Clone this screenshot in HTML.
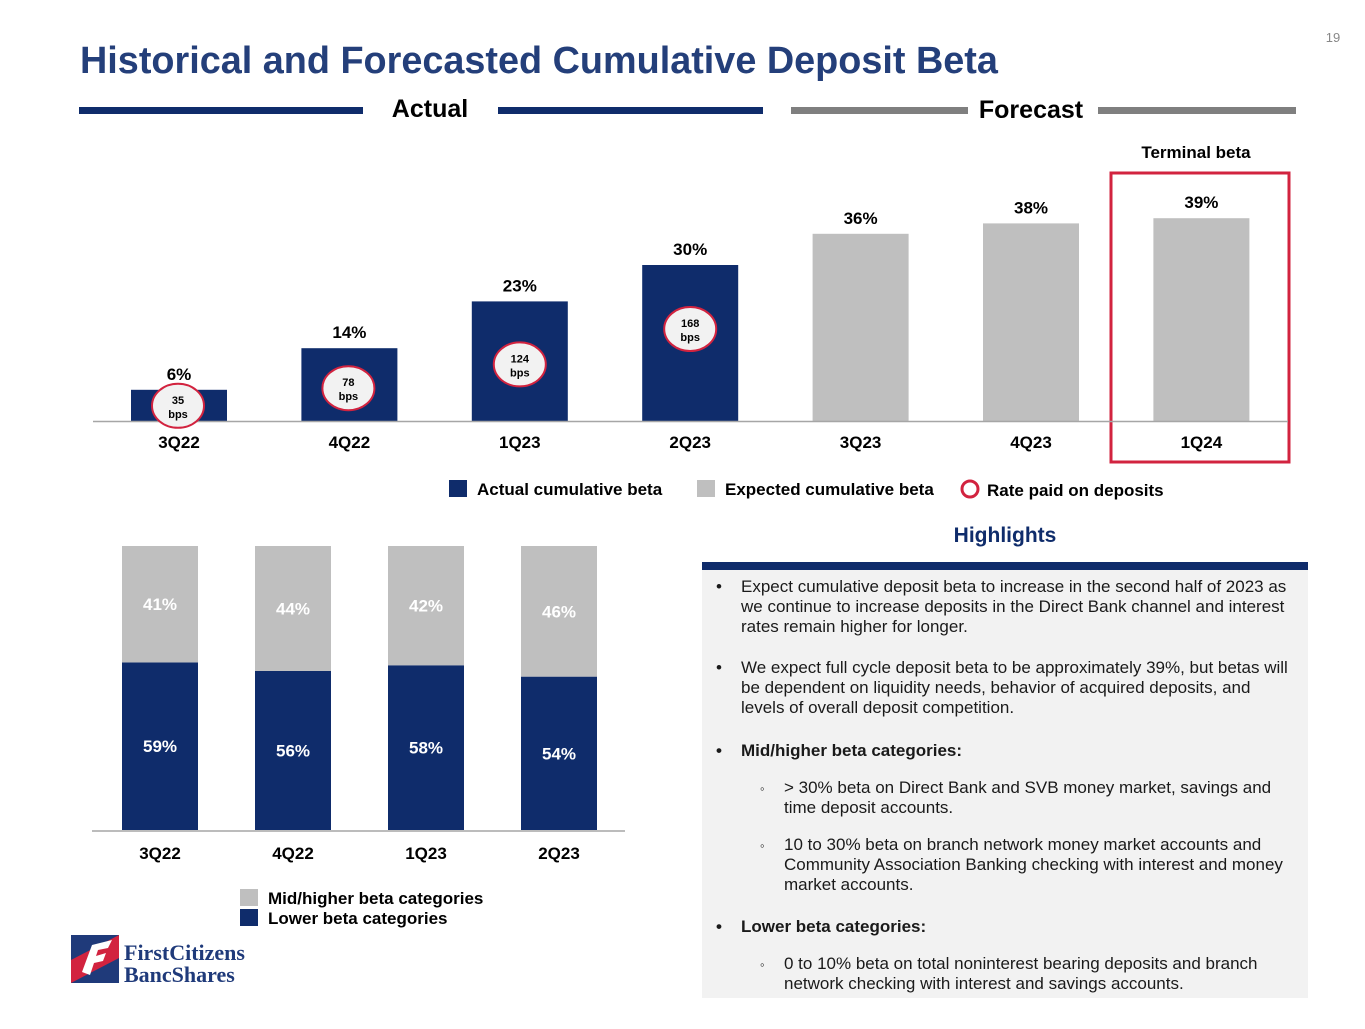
<!DOCTYPE html>
<html><head><meta charset="utf-8">
<style>
html,body{margin:0;padding:0;background:#fff;}
body{width:1365px;height:1024px;overflow:hidden;font-family:"Liberation Sans",Arial,sans-serif;}
svg text{font-family:"Liberation Sans",Arial,sans-serif;}
</style></head>
<body>
<svg id="s" width="1365" height="1024" viewBox="0 0 1365 1024" xmlns="http://www.w3.org/2000/svg">
<text x="1333" y="42" font-size="13" fill="#888" text-anchor="middle" font-family="Liberation Mono">19</text>
<text x="80" y="73" font-size="37.8" font-weight="bold" fill="#243f7a">Historical and Forecasted Cumulative Deposit Beta</text>
<rect x="79" y="107" width="284" height="7" fill="#0f2c6b"/>
<rect x="498" y="107" width="265" height="7" fill="#0f2c6b"/>
<text x="430" y="117" font-size="25" font-weight="bold" fill="#000" text-anchor="middle">Actual</text>
<rect x="791" y="107" width="177" height="7" fill="#7f7f7f"/>
<rect x="1098" y="107" width="198" height="7" fill="#7f7f7f"/>
<text x="1031" y="118" font-size="25" font-weight="bold" fill="#000" text-anchor="middle">Forecast</text>
<text x="1196" y="158" font-size="17" font-weight="bold" fill="#000" text-anchor="middle">Terminal beta</text>
<rect x="1111" y="173" width="178" height="289" fill="none" stroke="#d2233f" stroke-width="3"/>
<g id="topChart"></g>
<line x1="93" y1="421.5" x2="1288" y2="421.5" stroke="#a6a6a6" stroke-width="1.5"/>
<g id="rateMarks"></g>
<rect x="449" y="480" width="18" height="17" fill="#0f2c6b"/>
<text x="477" y="495" font-size="17" font-weight="bold">Actual cumulative beta</text>
<rect x="697" y="480" width="18" height="17" fill="#bfbfbf"/>
<text x="725" y="495" font-size="17" font-weight="bold">Expected cumulative beta</text>
<circle cx="970" cy="489" r="8" fill="none" stroke="#d2233f" stroke-width="3"/>
<text x="987" y="496" font-size="17" font-weight="bold">Rate paid on deposits</text>
<g id="botChart"></g>
<line x1="92" y1="831" x2="625" y2="831" stroke="#a6a6a6" stroke-width="1.5"/>
<rect x="240" y="889" width="18" height="17" fill="#bfbfbf"/>
<text x="268" y="904" font-size="17" font-weight="bold">Mid/higher beta categories</text>
<rect x="240" y="909" width="18" height="17" fill="#0f2c6b"/>
<text x="268" y="924" font-size="17" font-weight="bold">Lower beta categories</text>
<g>
<rect x="71" y="935" width="48" height="48" fill="#1f3a7a"/>
<path d="M71 983 L71 960 L119 935 L119 958 Z" fill="#d2233f"/>
<path d="M82 972 L92 945 L112 940 L108 948 L98 950 L96 956 L106 953 L103 961 L94 963 L90 975 Z" fill="#fff"/>
<text x="124" y="960" font-size="22" font-weight="bold" font-family="Liberation Serif" fill="#1f3a7a" style="font-family:'Liberation Serif',serif">FirstCitizens</text>
<text x="124" y="982" font-size="22" font-weight="bold" font-family="Liberation Serif" fill="#1f3a7a" style="font-family:'Liberation Serif',serif">BancShares</text>
</g>
<text x="1005" y="542" font-size="21" font-weight="bold" fill="#0f2c6b" text-anchor="middle">Highlights</text>
<rect x="702" y="570" width="606" height="428" fill="#f2f2f2"/>
<rect x="702" y="562" width="606" height="8" fill="#0f2c6b"/>
<g font-size="17" fill="#1a1a1a">
<text x="716" y="592">•</text>
<text x="741" y="592">Expect cumulative deposit beta to increase in the second half of 2023 as</text>
<text x="741" y="612">we continue to increase deposits in the Direct Bank channel and interest</text>
<text x="741" y="632">rates remain higher for longer.</text>
<text x="716" y="673">•</text>
<text x="741" y="673">We expect full cycle deposit beta to be approximately 39%, but betas will</text>
<text x="741" y="693">be dependent on liquidity needs, behavior of acquired deposits, and</text>
<text x="741" y="713">levels of overall deposit competition.</text>
<text x="716" y="756" font-weight="bold">•</text>
<text x="741" y="756" font-weight="bold">Mid/higher beta categories:</text>
<text x="760" y="793" font-size="13">◦</text>
<text x="784" y="793">&gt; 30% beta on Direct Bank and SVB money market, savings and</text>
<text x="784" y="813">time deposit accounts.</text>
<text x="760" y="850" font-size="13">◦</text>
<text x="784" y="850">10 to 30% beta on branch network money market accounts and</text>
<text x="784" y="870">Community Association Banking checking with interest and money</text>
<text x="784" y="890">market accounts.</text>
<text x="716" y="932" font-weight="bold">•</text>
<text x="741" y="932" font-weight="bold">Lower beta categories:</text>
<text x="760" y="969" font-size="13">◦</text>
<text x="784" y="969">0 to 10% beta on total noninterest bearing deposits and branch</text>
<text x="784" y="989">network checking with interest and savings accounts.</text>
</g>
</svg>
<script>
const topCats=["3Q22","4Q22","1Q23","2Q23","3Q23","4Q23","1Q24"];
const topValues=[6,14,23,30,36,38,39];
const topActual=[true,true,true,true,false,false,false];
const bpsValues=[35,78,124,168];
const botCats=["3Q22","4Q22","1Q23","2Q23"];
const lowerValues=[59,56,58,54];
const midValues=[41,44,42,46];

(function(){
const NS="http://www.w3.org/2000/svg";
function mk(p,t,a){const e=document.createElementNS(NS,t);for(const k in a)e.setAttribute(k,a[k]);p.appendChild(e);return e;}
const g1=document.getElementById('topChart');
const g2=document.getElementById('rateMarks');
const tX=i=>179+i*170.4, tBase=421, tY=v=>tBase-v*5.2;
const circOff=[16,40,63,64];
topCats.forEach((c,i)=>{
  const v=topValues[i];
  const r=mk(g1,'rect',{x:tX(i)-48,y:tY(v),width:96,height:tBase-tY(v),fill:topActual[i]?'#0f2c6b':'#bfbfbf'});
  
  
  const t=mk(g1,'text',{x:tX(i),y:tY(v)-10,'font-size':17,'font-weight':'bold','text-anchor':'middle'});t.textContent=v+'%';
  
  
  const l=mk(g1,'text',{x:tX(i),y:448,'font-size':17,'font-weight':'bold','text-anchor':'middle'});l.textContent=c;
  
  
});
bpsValues.forEach((b,i)=>{
  const cx=tX(i)-(i<2?1:0), cy=tY(topValues[i])+circOff[i];
  const e=mk(g2,'ellipse',{cx:cx,cy:cy,rx:26,ry:22,fill:'#f2f2f2',stroke:'#d2233f','stroke-width':2});
  
  
  const t1=mk(g2,'text',{x:cx,y:cy-2,'font-size':11,'font-weight':'bold','text-anchor':'middle'});t1.textContent=b;
  
  
  const t2=mk(g2,'text',{x:cx,y:cy+12,'font-size':11,'font-weight':'bold','text-anchor':'middle'});t2.textContent='bps';
  
  
});
const g3=document.getElementById('botChart');
const bX=i=>160+i*133, bBase=830, bS=2.84;
botCats.forEach((c,i)=>{
  const lh=lowerValues[i]*bS, mh=midValues[i]*bS;
  const r1=mk(g3,'rect',{x:bX(i)-38,y:bBase-lh,width:76,height:lh,fill:'#0f2c6b'});
  
  
  const r2=mk(g3,'rect',{x:bX(i)-38,y:bBase-lh-mh,width:76,height:mh,fill:'#bfbfbf'});
  
  
  const t1=mk(g3,'text',{x:bX(i),y:bBase-lh/2+6,'font-size':17,'font-weight':'bold',fill:'#fff','text-anchor':'middle'});t1.textContent=lowerValues[i]+'%';
  
  
  const t2=mk(g3,'text',{x:bX(i),y:bBase-lh-mh/2+6,'font-size':17,'font-weight':'bold',fill:'#fff','text-anchor':'middle'});t2.textContent=midValues[i]+'%';
  
  
  const l=mk(g3,'text',{x:bX(i),y:859,'font-size':17,'font-weight':'bold','text-anchor':'middle'});l.textContent=c;
  
  
});
})();
</script>
</body></html>
